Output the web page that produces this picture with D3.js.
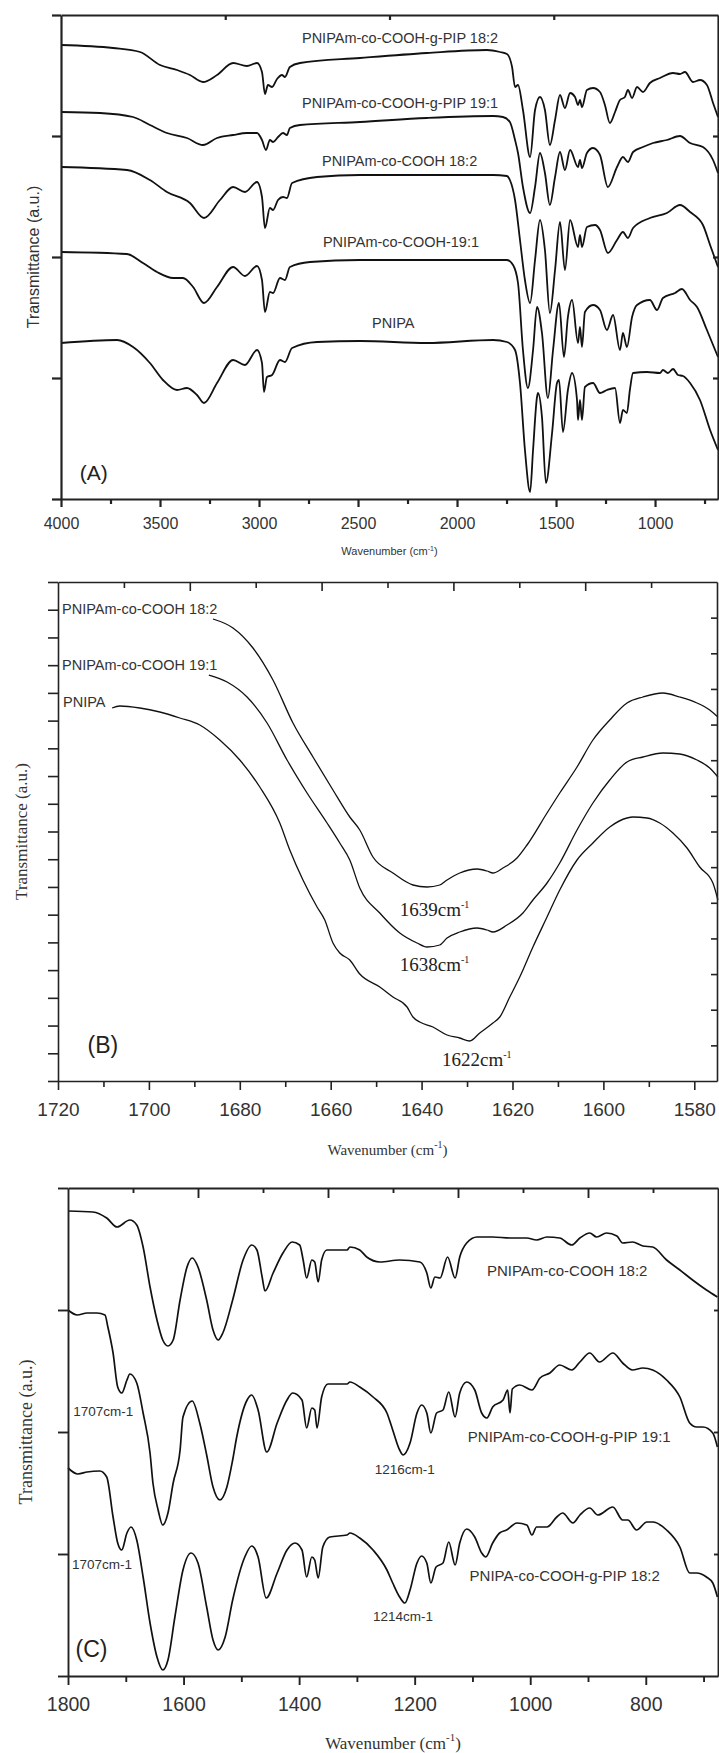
<!DOCTYPE html>
<html>
<head>
<meta charset="utf-8">
<script src="https://cdn.jsdelivr.net/npm/d3@7/dist/d3.min.js"></script>
<style>
  body { margin: 0; background: #fff; }
  svg { display: block; }
  .curve { fill: none; stroke: #111; stroke-linejoin: round; }
</style>
</head>
<body>
<script>
(function() {

    // ---------- panel A : full spectra, [wavenumber, transmittance a.u.] ----------
    var aPip182 = [[4000,90.8],[3737,90.2],[3601,89.4],[3500,86.8],[3414,85.8],[3349,84.8],[3283,83.4],[3212,84.8],[3131,87.2],[3061,86.6],[3010,87.2],[2985,85.4],[2970,81.0],[2955,82.8],[2934,82.4],[2909,84.0],[2884,84.8],[2869,84.4],[2844,86.4],[2793,87.2],[2490,88.2],[2152,89.2],[1849,89.8],[1783,89.4],[1748,89.0],[1722,86.4],[1707,82.4],[1692,82.8],[1667,77.8],[1631,68.4],[1606,77.8],[1581,80.4],[1556,77.8],[1531,70.8],[1505,75.8],[1480,80.8],[1455,78.2],[1429,81.2],[1404,80.4],[1389,78.8],[1379,79.8],[1369,78.4],[1344,81.8],[1313,82.2],[1278,81.4],[1253,78.8],[1228,75.2],[1202,77.4],[1177,79.8],[1152,80.4],[1137,81.8],[1116,80.2],[1091,82.4],[1061,81.4],[1026,83.2],[975,84.2],[909,85.2],[874,85.0],[849,85.4],[808,83.4],[773,83.8],[738,82.8],[707,79.2],[682,76.4]];
    var aPip191 = [[4000,77.4],[3803,77.2],[3636,76.4],[3551,74.8],[3465,73.2],[3364,72.2],[3283,70.8],[3212,72.2],[3131,72.8],[3061,73.2],[3010,73.2],[2985,71.8],[2965,69.8],[2945,71.8],[2929,71.4],[2904,72.4],[2879,73.2],[2859,72.8],[2844,74.2],[2793,74.8],[2490,75.4],[2152,76.2],[1818,76.6],[1768,76.4],[1733,75.4],[1707,71.8],[1692,69.2],[1667,62.4],[1631,57.2],[1606,62.4],[1581,69.2],[1556,65.2],[1531,58.8],[1505,64.4],[1480,69.4],[1455,65.8],[1429,69.8],[1389,66.4],[1379,67.8],[1369,66.2],[1344,69.2],[1313,70.2],[1278,68.8],[1238,62.4],[1192,66.4],[1162,68.4],[1137,67.4],[1111,69.4],[1061,70.4],[1010,71.2],[940,71.8],[874,72.6],[823,71.2],[758,70.4],[707,67.8],[682,65.2]];
    var aCooh182 = [[4000,66.4],[3667,65.8],[3551,63.8],[3465,61.4],[3349,59.2],[3278,56.2],[3197,59.8],[3131,62.4],[3071,61.4],[3010,63.4],[2985,60.4],[2970,54.2],[2945,58.2],[2929,57.8],[2904,59.8],[2879,60.4],[2859,60.2],[2833,63.2],[2707,64.4],[2490,64.8],[1818,64.8],[1748,64.6],[1733,63.8],[1707,59.8],[1682,51.8],[1657,43.8],[1631,39.2],[1606,47.8],[1581,55.8],[1556,49.8],[1531,37.2],[1505,45.8],[1480,55.4],[1455,45.8],[1429,55.8],[1389,50.4],[1379,52.8],[1369,50.4],[1344,54.4],[1303,54.8],[1278,53.8],[1238,49.2],[1192,51.8],[1162,53.4],[1137,52.2],[1111,54.2],[1026,56.2],[940,57.2],[874,58.8],[823,57.4],[758,54.8],[722,50.8],[682,46.4]];
    var aCooh191 = [[4000,49.4],[3667,49.0],[3586,47.2],[3515,45.4],[3434,44.2],[3384,44.2],[3333,42.4],[3278,39.2],[3212,42.4],[3131,46.4],[3071,44.6],[3010,46.6],[2985,43.8],[2970,37.4],[2945,41.4],[2929,41.2],[2894,44.2],[2869,43.8],[2844,46.4],[2743,47.4],[2490,47.8],[1748,47.8],[1717,46.8],[1692,43.2],[1667,29.8],[1642,22.2],[1616,29.8],[1596,38.4],[1571,33.2],[1541,20.2],[1515,29.8],[1485,39.2],[1460,28.4],[1440,36.4],[1419,39.8],[1389,31.2],[1379,34.4],[1369,30.4],[1354,37.4],[1313,38.8],[1278,37.8],[1243,33.8],[1212,36.8],[1177,29.8],[1162,33.2],[1142,30.4],[1116,36.4],[1091,38.8],[1026,39.8],[990,37.8],[960,40.2],[899,41.2],[864,42.0],[823,39.8],[788,38.4],[738,33.8],[682,28.4]];
    var aPnipa = [[4000,31.2],[3717,31.8],[3636,30.4],[3551,27.2],[3485,23.8],[3414,21.8],[3364,22.2],[3313,20.8],[3278,19.2],[3212,23.2],[3131,27.8],[3071,26.8],[3010,29.8],[2985,27.2],[2975,21.4],[2960,24.4],[2934,24.8],[2894,27.8],[2869,27.4],[2833,30.2],[2707,31.4],[2490,31.6],[2152,31.2],[1818,31.8],[1748,31.4],[1707,29.8],[1682,23.2],[1657,9.8],[1631,1.4],[1616,9.8],[1596,20.4],[1591,21.2],[1571,16.4],[1551,3.2],[1520,13.2],[1495,23.2],[1485,23.8],[1465,13.4],[1440,21.8],[1419,25.2],[1394,19.8],[1389,15.8],[1379,19.8],[1369,15.8],[1354,22.4],[1313,23.2],[1278,21.2],[1243,21.8],[1202,22.2],[1177,15.2],[1162,17.8],[1142,17.2],[1127,21.8],[1111,25.2],[1041,25.4],[975,25.2],[960,25.8],[935,25.2],[909,26.0],[884,24.8],[859,24.6],[823,23.2],[773,19.8],[722,13.8],[682,9.8]];

    var ticksA = [4000, 3500, 3000, 2500, 2000, 1500, 1000];
    var minorA = [3750, 3250, 2750, 2250, 1750, 1250, 750];
    var labelsA = [
        {t: "PNIPAm-co-COOH-g-PIP 18:2", w: 2783, v: 91.2},
        {t: "PNIPAm-co-COOH-g-PIP 19:1", w: 2783, v: 78.2},
        {t: "PNIPAm-co-COOH 18:2", w: 2682, v: 66.6},
        {t: "PNIPAm-co-COOH-19:1", w: 2677, v: 50.4},
        {t: "PNIPA", w: 2429, v: 34.2}
    ];

    // ---------- panel B : amide I close-up ----------
    var bCooh182 = [[1685.9,92.4],[1681.5,90.6],[1677.1,86.6],[1672.7,80.2],[1668.3,71.6],[1663.9,64.8],[1659.5,58.2],[1655.8,52.8],[1653.6,50.2],[1650.7,44.8],[1646.3,41.6],[1641.9,39.2],[1638.8,38.8],[1636.0,39.2],[1634.4,40.2],[1631.6,41.6],[1627.8,42.4],[1625.6,42.0],[1624.3,41.6],[1622.1,42.6],[1619.0,44.6],[1616.8,47.2],[1612.4,53.6],[1609.6,57.6],[1605.8,62.8],[1602.3,68.2],[1598.6,72.2],[1594.8,75.6],[1591.3,76.8],[1586.9,77.6],[1583.2,76.8],[1579.4,75.6],[1576.6,74.2],[1574.8,72.8]];
    var bCooh191 = [[1686.8,81.2],[1682.8,79.8],[1678.4,76.8],[1674.0,71.6],[1669.6,64.2],[1665.2,57.6],[1660.8,51.6],[1658.0,47.6],[1655.8,44.2],[1653.6,38.6],[1649.2,33.6],[1644.8,29.6],[1641.0,27.6],[1638.8,26.8],[1636.0,27.2],[1634.4,28.6],[1631.6,29.8],[1627.8,30.6],[1625.6,30.2],[1624.3,29.8],[1621.2,31.2],[1617.7,33.6],[1615.5,36.2],[1612.4,39.6],[1609.6,43.6],[1605.8,50.2],[1602.3,55.6],[1598.6,60.2],[1594.8,63.8],[1591.3,64.8],[1586.9,65.6],[1583.2,65.4],[1579.4,64.2],[1576.6,62.6],[1574.8,60.8]];
    var bPnipa = [[1708.1,74.6],[1706.4,75.0],[1702.0,74.6],[1697.6,73.8],[1693.2,72.6],[1688.8,71.2],[1684.4,68.2],[1680.0,64.2],[1675.6,58.8],[1671.2,51.6],[1669.0,46.2],[1666.1,40.2],[1663.0,34.8],[1661.3,32.2],[1659.5,27.6],[1658.0,25.6],[1655.8,24.2],[1653.6,21.4],[1649.2,18.8],[1646.3,16.8],[1643.2,14.8],[1641.9,12.8],[1640.4,11.8],[1637.5,10.8],[1634.4,9.2],[1631.6,8.6],[1629.4,8.0],[1627.2,9.6],[1624.3,11.6],[1622.8,12.8],[1620.6,16.8],[1618.4,20.8],[1615.5,26.8],[1612.4,32.8],[1609.6,38.2],[1605.8,44.2],[1602.3,47.6],[1598.6,50.8],[1594.8,52.6],[1593.5,52.8],[1590.4,52.6],[1587.6,51.6],[1584.7,49.6],[1581.6,46.6],[1578.8,42.8],[1575.9,39.6],[1574.8,36.2]];

    var ticksB = [1720, 1700, 1680, 1660, 1640, 1620, 1600, 1580];
    var minorB = [1710, 1690, 1670, 1650, 1630, 1610, 1590];
    var labelsB = [
        {t: "PNIPAm-co-COOH 18:2", w: 1719.1, v: 93.4},
        {t: "PNIPAm-co-COOH 19:1", w: 1719.1, v: 82.2},
        {t: "PNIPA", w: 1718.9, v: 74.8}
    ];
    var peaksB = [
        {t: "1639cm", w: 1644.8, v: 33.0},
        {t: "1638cm", w: 1644.8, v: 22.0},
        {t: "1622cm", w: 1635.5, v: 3.0}
    ];

    // ---------- panel C : fingerprint region ----------
    var cCooh182 = [[1800,93.0],[1757,92.8],[1733,91.6],[1715,89.8],[1693,91.2],[1681,90.2],[1670,85.8],[1658,77.8],[1646,71.2],[1636,67.2],[1627,66.0],[1618,67.2],[1606,75.2],[1594,81.8],[1585,83.6],[1575,81.8],[1560,75.2],[1549,69.2],[1540,67.2],[1532,68.6],[1515,75.2],[1497,83.2],[1482,86.2],[1473,85.2],[1464,79.8],[1459,77.0],[1445,80.6],[1428,84.6],[1412,86.8],[1399,86.2],[1393,83.2],[1387,79.6],[1378,83.2],[1373,82.8],[1367,78.8],[1361,83.2],[1352,85.2],[1317,85.2],[1312,85.8],[1295,85.2],[1283,83.8],[1260,82.8],[1226,83.2],[1191,82.8],[1179,80.6],[1172,77.6],[1165,79.8],[1156,79.6],[1143,83.8],[1130,79.6],[1122,83.8],[1110,86.6],[1092,87.8],[1065,87.8],[1035,87.6],[1006,87.6],[989,87.2],[971,87.8],[949,87.6],[928,86.2],[914,87.6],[897,88.6],[885,87.8],[868,88.6],[850,88.0],[840,86.6],[823,86.8],[805,86.0],[788,85.8],[764,83.2],[741,81.2],[719,79.2],[695,77.2],[676,75.8]];
    var cPip191 = [[1800,73.2],[1784,72.2],[1767,72.6],[1750,72.6],[1736,72.2],[1731,69.8],[1722,64.6],[1714,57.8],[1707,56.6],[1698,59.2],[1693,60.4],[1681,58.6],[1670,52.6],[1658,44.6],[1653,38.6],[1644,33.2],[1636,30.2],[1627,32.6],[1618,38.6],[1606,45.2],[1601,51.8],[1585,55.0],[1572,50.6],[1560,44.2],[1549,37.8],[1537,35.2],[1525,37.8],[1515,43.2],[1508,47.8],[1490,55.2],[1482,56.2],[1471,53.2],[1456,44.8],[1438,50.6],[1421,55.2],[1411,56.6],[1395,55.2],[1387,49.6],[1378,53.6],[1373,53.2],[1369,49.6],[1361,55.8],[1350,58.4],[1317,58.4],[1312,58.8],[1295,57.8],[1272,55.8],[1248,52.6],[1238,49.2],[1226,45.2],[1220,44.2],[1208,46.6],[1196,52.6],[1188,54.2],[1179,52.6],[1172,48.6],[1162,52.6],[1151,53.2],[1141,56.8],[1130,51.8],[1122,56.6],[1110,58.8],[1096,57.2],[1084,52.6],[1075,51.6],[1065,53.8],[1047,55.2],[1039,57.2],[1035,52.6],[1031,57.4],[1018,58.2],[997,57.2],[983,59.6],[966,60.6],[949,62.2],[928,61.2],[914,62.8],[897,64.6],[880,62.8],[857,64.6],[840,62.6],[823,61.2],[805,61.6],[788,61.2],[764,59.2],[741,55.8],[724,50.6],[712,49.8],[701,49.8],[684,48.6],[676,45.8]];
    var cPip182 = [[1800,41.6],[1783,40.4],[1767,40.8],[1745,41.0],[1733,39.8],[1722,31.8],[1714,26.6],[1707,25.2],[1698,28.6],[1691,29.8],[1681,27.2],[1670,19.8],[1658,10.6],[1646,3.8],[1636,1.2],[1627,3.2],[1615,11.8],[1601,21.2],[1587,24.6],[1575,22.6],[1560,13.8],[1549,7.2],[1540,5.2],[1528,7.8],[1515,15.2],[1494,23.8],[1482,26.0],[1471,23.8],[1457,15.6],[1438,20.6],[1421,25.2],[1407,26.6],[1395,25.2],[1387,19.8],[1378,23.8],[1373,23.2],[1367,19.6],[1359,25.8],[1347,27.8],[1317,28.2],[1312,28.6],[1295,27.6],[1272,25.2],[1248,21.2],[1238,18.6],[1226,15.8],[1217,14.6],[1208,17.2],[1196,22.6],[1188,24.0],[1179,22.6],[1172,18.6],[1163,21.8],[1151,22.6],[1141,26.8],[1130,22.2],[1122,26.6],[1110,29.4],[1096,27.8],[1084,24.6],[1077,23.8],[1065,26.6],[1053,28.6],[1041,29.2],[1023,30.6],[1006,30.2],[997,28.2],[989,29.8],[971,29.8],[954,31.8],[944,32.6],[926,30.6],[914,32.2],[897,33.6],[883,32.2],[857,33.8],[840,31.2],[831,31.2],[816,29.2],[798,30.8],[788,30.8],[764,29.2],[741,25.8],[724,20.6],[712,20.6],[695,19.8],[684,18.6],[676,15.8]];

    var ticksC = [1800, 1600, 1400, 1200, 1000, 800];
    var minorC = [1700, 1500, 1300, 1100, 900, 700];
    var labelsC = [
        {t: "PNIPAm-co-COOH 18:2", w: 1075, v: 80.0, fs: 15},
        {t: "1707cm-1", w: 1791, v: 52.0, fs: 13.5},
        {t: "PNIPAm-co-COOH-g-PIP 19:1", w: 1108, v: 46.8, fs: 15},
        {t: "1216cm-1", w: 1269, v: 40.4, fs: 13.5},
        {t: "1707cm-1", w: 1793, v: 21.4, fs: 13.5},
        {t: "PNIPA-co-COOH-g-PIP 18:2", w: 1105, v: 19.0, fs: 15},
        {t: "1214cm-1", w: 1272, v: 11.0, fs: 13.5}
    ];

    var SANS = "Arial, 'Liberation Sans', sans-serif";
    var SERIF = "'Times New Roman', 'Liberation Serif', serif";

    var svg = d3.select("body")
        .append("svg")
        .attr("width", 719)
        .attr("height", 1753);

    var panels = [
        {name: "(A)", left: 61, right: 718, top: 15, bottom: 499, xDomain: [4000, 682], yMax: 96.8,
         series: [aPip182, aPip191, aCooh182, aCooh191, aPnipa], curveW: 1.8, axisW: 2.2,
         ticks: ticksA, minor: minorA, majLen: 8, minLen: 5, tickFs: 16, tickOff: 30,
         leftN: 4, leftLen: 9, rightN: 4, rightLen: 5, topN: 4, topMaj: 5, topMin: 5,
         tag: {w: 3905, v: 3.8, fs: 21},
         yTitle: {t: "Transmittance (a.u.)", x: 39, fs: 16, font: SANS},
         xTitle: {y: 555, fs: 11, font: SANS, sup: 7, dy: 4}},
        {name: "(B)", left: 58, right: 717, top: 582, bottom: 1081, xDomain: [1720, 1575], yMax: 99.8,
         series: [bCooh182, bCooh191, bPnipa], curveW: 1.3, axisW: 1.6,
         ticks: ticksB, minor: minorB, majLen: 9, minLen: 6, tickFs: 19, tickOff: 35,
         leftN: 18, leftLen: 10, rightN: 14, rightLen: 6, topN: 10, topMaj: 9, topMin: 6,
         tag: {w: 1713.5, v: 5.6, fs: 23},
         yTitle: {t: "Transmittance (a.u.)", x: 27, fs: 17, font: SERIF},
         xTitle: {y: 1155, fs: 15, font: SERIF, sup: 10, dy: 7}},
        {name: "(C)", left: 68, right: 718, top: 1188, bottom: 1676, xDomain: [1800, 675], yMax: 97.6,
         series: [cCooh182, cPip191, cPip182], curveW: 1.7, axisW: 1.9,
         ticks: ticksC, minor: minorC, majLen: 9, minLen: 6, tickFs: 19.5, tickOff: 35,
         leftN: 4, leftLen: 10, rightN: 4, rightLen: 4, topN: 10, topMaj: 10, topMin: 5,
         tag: {w: 1787, v: 3.8, fs: 23},
         yTitle: {t: "Transmittance (a.u.)", x: 32, fs: 18, font: SERIF},
         xTitle: {y: 1749, fs: 17, font: SERIF, sup: 11, dy: 8}}
    ];

    var scales = panels.map(drawPanel);

    // curve labels, panel A
    labelsA.forEach(function(l) {
        svg.append("text")
            .attr("x", scales[0].x(l.w))
            .attr("y", scales[0].y(l.v))
            .attr("font-family", SANS)
            .attr("font-size", 14.5)
            .attr("fill", "#333")
            .text(l.t);
    });

    // curve labels and peak positions, panel B
    labelsB.forEach(function(l) {
        svg.append("text")
            .attr("x", scales[1].x(l.w))
            .attr("y", scales[1].y(l.v))
            .attr("font-family", SANS)
            .attr("font-size", 14.5)
            .attr("fill", "#333")
            .text(l.t);
    });
    peaksB.forEach(function(l) {
        var t = svg.append("text")
            .attr("x", scales[1].x(l.w))
            .attr("y", scales[1].y(l.v))
            .attr("font-family", SERIF)
            .attr("font-size", 19)
            .attr("fill", "#222");
        t.append("tspan").text(l.t);
        t.append("tspan").attr("dy", -8).attr("font-size", 10).text("-1");
    });

    // labels, panel C
    labelsC.forEach(function(l) {
        svg.append("text")
            .attr("x", scales[2].x(l.w))
            .attr("y", scales[2].y(l.v))
            .attr("font-family", SANS)
            .attr("font-size", l.fs)
            .attr("fill", "#333")
            .text(l.t);
    });


    function drawPanel(p) {

        var x = d3.scaleLinear().domain(p.xDomain).range([p.left, p.right]);
        var y = d3.scaleLinear().domain([0, p.yMax]).range([p.bottom, p.top]);
        var g = svg.append("g");

        var line = d3.line()
            .x(function(d) { return x(d[0]); })
            .y(function(d) { return y(d[1]); })
            .curve(d3.curveMonotoneX);

        g.selectAll(".curve")
            .data(p.series)
            .enter()
            .append("path")
            .attr("class", "curve")
            .attr("stroke-width", p.curveW)
            .attr("d", line);

        // bottom axis, labelled majors then unlabelled minors
        var bottom = g.append("g")
            .attr("transform", "translate(0," + p.bottom + ")")
            .call(d3.axisBottom(x).tickValues(p.ticks).tickSize(p.majLen).tickSizeOuter(0).tickFormat(d3.format("d")));
        bottom.selectAll("text")
            .attr("y", p.tickOff)
            .attr("dy", 0)
            .attr("fill", "#333");
        bottom.attr("font-family", SANS).attr("font-size", p.tickFs);

        var bMinor = g.append("g")
            .attr("transform", "translate(0," + p.bottom + ")")
            .call(d3.axisBottom(x).tickValues(p.minor).tickSize(p.minLen).tickFormat(""));
        bMinor.select(".domain").remove();

        // left axis, ticks outward
        var yTicks = d3.range(p.leftN + 1).map(function(k) { return k * p.yMax / p.leftN; });
        g.append("g")
            .attr("transform", "translate(" + p.left + ",0)")
            .call(d3.axisLeft(y).tickValues(yTicks).tickSize(p.leftLen).tickSizeOuter(0).tickFormat(""));

        // right axis, ticks inward
        var yRight = d3.scaleLinear().domain([0, p.rightN]).range([p.bottom, p.top]);
        g.append("g")
            .attr("transform", "translate(" + p.right + ",0)")
            .call(d3.axisRight(yRight).tickValues(d3.range(1, p.rightN)).tickSize(-p.rightLen).tickSizeOuter(0).tickFormat(""));

        // top axis, ticks inward
        var xTop = d3.scaleLinear().domain([0, p.topN]).range([p.left, p.right]);
        var topMaj = d3.range(1, p.topN).filter(function(k) { return p.topN < 5 || k % 2 === 0; });
        var topMin = d3.range(1, p.topN).filter(function(k) { return p.topN >= 5 && k % 2 === 1; });
        g.append("g")
            .attr("transform", "translate(0," + p.top + ")")
            .call(d3.axisTop(xTop).tickValues(topMaj).tickSize(-p.topMaj).tickSizeOuter(0).tickFormat(""));
        var tMinor = g.append("g")
            .attr("transform", "translate(0," + p.top + ")")
            .call(d3.axisTop(xTop).tickValues(topMin).tickSize(-p.topMin).tickFormat(""));
        tMinor.select(".domain").remove();

        g.selectAll(".domain, .tick line")
            .attr("stroke", "#222")
            .attr("stroke-width", p.axisW);

        // panel tag
        g.append("text")
            .attr("x", x(p.tag.w))
            .attr("y", y(p.tag.v))
            .attr("font-family", SANS)
            .attr("font-size", p.tag.fs)
            .attr("fill", "#222")
            .text(p.name);

        // y title
        g.append("text")
            .attr("transform", "translate(" + p.yTitle.x + "," + ((p.top + p.bottom) / 2) + ") rotate(-90)")
            .attr("text-anchor", "middle")
            .attr("font-family", p.yTitle.font)
            .attr("font-size", p.yTitle.fs)
            .attr("fill", "#333")
            .text(p.yTitle.t);

        // x title with superscript
        var xt = g.append("text")
            .attr("x", (p.left + p.right) / 2)
            .attr("y", p.xTitle.y)
            .attr("text-anchor", "middle")
            .attr("font-family", p.xTitle.font)
            .attr("font-size", p.xTitle.fs)
            .attr("fill", "#333");
        xt.append("tspan").text("Wavenumber (cm");
        xt.append("tspan").attr("dy", -p.xTitle.dy).attr("font-size", p.xTitle.sup).text("-1");
        xt.append("tspan").attr("dy", p.xTitle.dy).text(")");

        return {x: x, y: y};
    }

})();
</script>
</body>
</html>
